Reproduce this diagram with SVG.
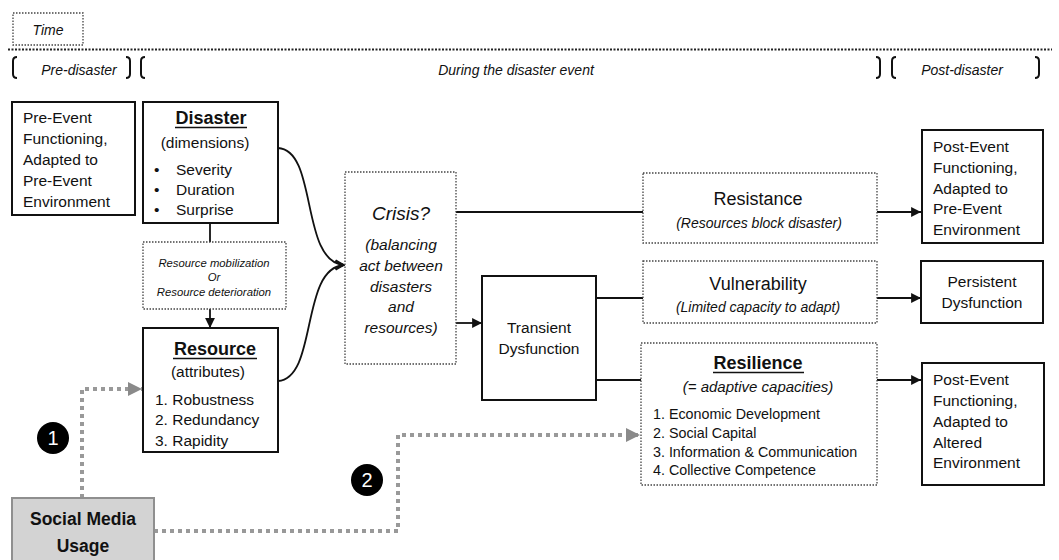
<svg xmlns="http://www.w3.org/2000/svg" width="1059" height="560" viewBox="0 0 1059 560">
<defs>
<style>
text{font-family:"Liberation Sans",Arial,sans-serif;fill:#111}
.solid{fill:#fff;stroke:#111;stroke-width:2}
.dot{fill:#fff;stroke:#444;stroke-width:1.3;stroke-dasharray:1.5 1.5}
.b{font-size:15.5px}
.i{font-style:italic}
.c{text-anchor:middle}
.t{font-weight:bold;font-size:18px}
.con{fill:none;stroke:#111;stroke-width:1.8}
.gray{fill:none;stroke:#999;stroke-width:4;stroke-dasharray:4 4}
.brk{fill:none;stroke:#111;stroke-width:2}
</style>
<marker id="ar" viewBox="0 0 10 10" refX="10" refY="5" markerWidth="5.5" markerHeight="5.5" orient="auto" markerUnits="strokeWidth"><path d="M0,0 L10,5 L0,10 z" fill="#111"/></marker>
<marker id="open" viewBox="0 0 10 10" refX="9" refY="5" markerWidth="6" markerHeight="6" orient="auto" markerUnits="strokeWidth"><path d="M1,1 L9,5 L1,9" fill="none" stroke="#111" stroke-width="1.5"/></marker>
<marker id="gar" viewBox="0 0 10 10" refX="10" refY="5" markerWidth="3.5" markerHeight="3.5" orient="auto" markerUnits="strokeWidth"><path d="M0,0 L10,5 L0,10 z" fill="#8a8a8a"/></marker>
</defs>
<rect width="1059" height="560" fill="#fff"/>

<g id="timeline">
<rect x="13" y="13" width="70" height="32" class="dot"/>
<text x="48" y="35" class="c i" font-size="14">Time</text>
<line x1="8" y1="49.5" x2="1052" y2="49.5" stroke="#222" stroke-width="2" stroke-dasharray="2 1.5"/>
<path class="brk" d="M17,57 Q13,57 13,61 V74 Q13,78 17,78"/>
<path class="brk" d="M126,57 Q130,57 130,61 V74 Q130,78 126,78"/>
<path class="brk" d="M145,57 Q141,57 141,61 V74 Q141,78 145,78"/>
<path class="brk" d="M876,57 Q880,57 880,61 V74 Q880,78 876,78"/>
<path class="brk" d="M896,57 Q892,57 892,61 V74 Q892,78 896,78"/>
<path class="brk" d="M1035,57 Q1039,57 1039,61 V74 Q1039,78 1035,78"/>
<text x="79" y="75" class="c i" font-size="14">Pre-disaster</text>
<text x="516" y="75" class="c i" font-size="14">During the disaster event</text>
<text x="962" y="75" class="c i" font-size="14">Post-disaster</text>
</g>

<g id="connectors">
<line x1="210" y1="223" x2="210" y2="242" class="con"/>
<line x1="210" y1="309" x2="210" y2="328" class="con" marker-end="url(#ar)"/>
<path class="con" d="M278,148 C318,150 300,262 344,265" marker-end="url(#open)"/>
<path class="con" d="M278,381 C318,378 300,268 344,265" marker-end="url(#open)"/>
<line x1="456" y1="212" x2="643" y2="212" class="con"/>
<line x1="456" y1="323" x2="482" y2="323" class="con" marker-end="url(#ar)"/>
<line x1="596" y1="298" x2="643" y2="298" class="con"/>
<line x1="596" y1="380" x2="641" y2="380" class="con"/>
<line x1="877" y1="212" x2="921" y2="212" class="con" marker-end="url(#ar)"/>
<line x1="877" y1="298" x2="921" y2="298" class="con" marker-end="url(#ar)"/>
<line x1="877" y1="380" x2="921" y2="380" class="con" marker-end="url(#ar)"/>
<path class="gray" d="M82,498 V389 H142" marker-end="url(#gar)"/>
<path class="gray" d="M154,531 H398 V435 H640" marker-end="url(#gar)"/>
</g>

<g id="pre-event">
<rect x="12" y="102" width="123" height="113" class="solid"/>
<text class="b" x="23" y="123">Pre-Event</text>
<text class="b" x="23" y="144">Functioning,</text>
<text class="b" x="23" y="165">Adapted to</text>
<text class="b" x="23" y="186">Pre-Event</text>
<text class="b" x="23" y="207">Environment</text>
</g>

<g id="disaster">
<rect x="143" y="102" width="135" height="121" class="solid"/>
<text class="t c" x="211" y="124">Disaster</text>
<line x1="175" y1="127.5" x2="247" y2="127.5" stroke="#111" stroke-width="1.5"/>
<text class="b c" x="205" y="148">(dimensions)</text>
<text class="b" x="154" y="175">•</text><text class="b" x="176" y="175">Severity</text>
<text class="b" x="154" y="195">•</text><text class="b" x="176" y="195">Duration</text>
<text class="b" x="154" y="215">•</text><text class="b" x="176" y="215">Surprise</text>
</g>

<g id="mobilization">
<rect x="143" y="242" width="143" height="67" class="dot"/>
<text class="c i" font-size="11.3" x="214" y="267">Resource mobilization</text>
<text class="c i" font-size="11.3" x="214" y="281">Or</text>
<text class="c i" font-size="11.3" x="214" y="296">Resource deterioration</text>
</g>

<g id="resource">
<rect x="143" y="328" width="135" height="124" class="solid"/>
<text class="t c" x="215" y="355">Resource</text>
<line x1="173" y1="358.5" x2="257" y2="358.5" stroke="#111" stroke-width="1.5"/>
<text class="b c" x="208" y="377">(attributes)</text>
<text class="b" x="155" y="405">1. Robustness</text>
<text class="b" x="155" y="425">2. Redundancy</text>
<text class="b" x="155" y="446">3. Rapidity</text>
</g>

<g id="crisis">
<rect x="345" y="172" width="111" height="192" class="dot"/>
<text class="c i" font-size="19" x="401" y="220">Crisis?</text>
<text class="b c i" x="401" y="250">(balancing</text>
<text class="b c i" x="401" y="271">act between</text>
<text class="b c i" x="401" y="292">disasters</text>
<text class="b c i" x="401" y="312">and</text>
<text class="b c i" x="401" y="333">resources)</text>
</g>

<g id="transient">
<rect x="482" y="276" width="114" height="124" class="solid"/>
<text class="b c" x="539" y="333">Transient</text>
<text class="b c" x="539" y="354">Dysfunction</text>
</g>

<g id="resistance">
<rect x="643" y="173" width="234" height="70" class="dot"/>
<text class="c" font-size="18" x="758" y="205">Resistance</text>
<text class="c i" font-size="14" x="759" y="228">(Resources block disaster)</text>
</g>

<g id="vulnerability">
<rect x="643" y="261" width="234" height="62" class="dot"/>
<text class="c" font-size="18" x="758" y="290">Vulnerability</text>
<text class="c i" font-size="14" x="758" y="312">(Limited capacity to adapt)</text>
</g>

<g id="resilience">
<rect x="641" y="343" width="236" height="142" class="dot"/>
<text class="t c" x="758" y="369">Resilience</text>
<line x1="713" y1="372.5" x2="804" y2="372.5" stroke="#111" stroke-width="1.5"/>
<text class="c i" font-size="15" x="758" y="392">(= adaptive capacities)</text>
<text font-size="14.3" x="653" y="419">1. Economic Development</text>
<text font-size="14.3" x="653" y="438">2. Social Capital</text>
<text font-size="14.3" x="653" y="457">3. Information &amp; Communication</text>
<text font-size="14.3" x="653" y="475">4. Collective Competence</text>
</g>

<g id="post-event-pre">
<rect x="922" y="130" width="121" height="113" class="solid"/>
<text class="b" x="933" y="152">Post-Event</text>
<text class="b" x="933" y="173">Functioning,</text>
<text class="b" x="933" y="194">Adapted to</text>
<text class="b" x="933" y="214">Pre-Event</text>
<text class="b" x="933" y="235">Environment</text>
</g>

<g id="persistent">
<rect x="921" y="261" width="122" height="62" class="solid"/>
<text class="b c" x="982" y="287">Persistent</text>
<text class="b c" x="982" y="308">Dysfunction</text>
</g>

<g id="post-event-altered">
<rect x="922" y="363" width="122" height="122" class="solid"/>
<text class="b" x="933" y="385">Post-Event</text>
<text class="b" x="933" y="406">Functioning,</text>
<text class="b" x="933" y="427">Adapted to</text>
<text class="b" x="933" y="448">Altered</text>
<text class="b" x="933" y="468">Environment</text>
</g>

<g id="social-media">
<rect x="12" y="498" width="142" height="70" fill="#d3d3d3" stroke="#8f8f8f" stroke-width="2"/>
<text class="c" font-weight="bold" font-size="17.5" x="83" y="525">Social Media</text>
<text class="c" font-weight="bold" font-size="17.5" x="83" y="552">Usage</text>
</g>

<g id="badge-1">
<circle cx="53" cy="438" r="16" fill="#000"/>
<text class="c" x="53" y="445" font-size="20" style="fill:#fff">1</text>
</g>
<g id="badge-2">
<circle cx="367" cy="480" r="16" fill="#000"/>
<text class="c" x="367" y="487" font-size="20" style="fill:#fff">2</text>
</g>
</svg>
